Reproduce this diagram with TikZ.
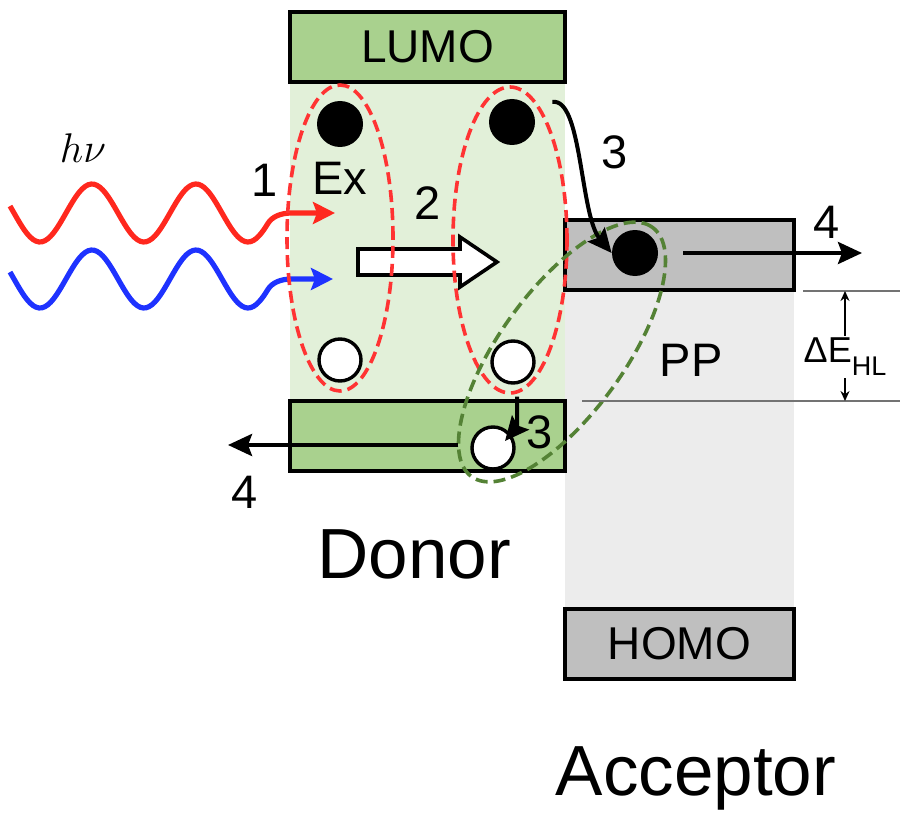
\documentclass[tikz,border=0pt]{standalone}
\usepackage{fontspec}
\setmainfont{Liberation Sans}
\usepackage{xcolor}
\usepackage{tikz}
\usetikzlibrary{positioning, arrows.meta, shapes.geometric, calc}
\definecolor{donorgreen}{RGB}{169,209,142}
\definecolor{donorbg}{RGB}{226,240,217}
\definecolor{accgray}{RGB}{191,191,191}
\definecolor{accbg}{RGB}{236,236,236}
\definecolor{exred}{RGB}{255,51,51}
\definecolor{ppgreen}{RGB}{84,130,53}
\definecolor{wavered}{RGB}{255,40,30}
\definecolor{waveblue}{RGB}{30,50,255}

\begin{document}
\begin{tikzpicture}[x=0.5pt, y=-0.5pt,
    level/.style={draw, line width=1.9pt, minimum height=35pt, inner sep=0pt,
                  font=\fontsize{23}{23}\selectfont},
    dlevel/.style={level, fill=donorgreen, minimum width=137.5pt},
    alevel/.style={level, fill=accgray, minimum width=114.5pt},
    electron/.style={circle, fill=black, minimum size=23pt, inner sep=0pt},
    hole/.style={circle, draw, line width=1.7pt, fill=white, minimum size=21pt, inner sep=0pt},
    lbl/.style={font=\fontsize{23.5}{24}\selectfont, inner sep=0pt},
    biglbl/.style={font=\fontsize{35.5}{36}\selectfont, inner sep=0pt, anchor=base},
    exciton/.style={ellipse, draw=exred, dash pattern=on 6pt off 3pt, line width=1.8pt, inner sep=0pt},
    pair/.style={ellipse, draw=ppgreen, dash pattern=on 6pt off 3pt, line width=1.8pt, inner sep=0pt},
    arr/.style={line width=2pt, -{Stealth[length=12pt, width=11pt, inset=2pt]}},
    wave/.style={line width=2.6pt, -{Stealth[length=11pt, width=11pt, inset=2pt]}},
    guide/.style={draw=black!55, line width=0.8pt}]

  \useasboundingbox (0,0) rectangle (900,813);

  \fill[donorbg] (290,82) rectangle (565,401);
  \fill[accbg] (565,290) rectangle (794,608);

  \node[dlevel] (dlumo) at (427.5,47) {LUMO};
  \node[dlevel] (dhomo) at (427.5,436) {};
  \node[alevel] (alumo) at (679.5,255) {};
  \node[alevel] (ahomo) at (679.5,644) {HOMO};

  \draw[line width=1.8pt, fill=white] (358,249) -- (460,249) -- (460,237) -- (497,262)
    -- (460,287) -- (460,275) -- (358,275) -- cycle;

  \coordinate (redtip) at (335,213);
  \coordinate (bluetip) at (333,279);
  \draw[wave, wavered] plot[domain=10:268, samples=90, smooth] (\x, {213+29*sin(3.4615*(\x-14))})
    .. controls (272,217) and (280,213) .. (292,213) -- (redtip);
  \draw[wave, waveblue] plot[domain=10:268, samples=90, smooth] (\x, {279+29*sin(3.4615*(\x-14))})
    .. controls (272,283) and (280,279) .. (292,279) -- (bluetip);

  \node[exciton, minimum width=53pt, minimum height=153pt] (ex1) at (340,238) {};
  \node[exciton, minimum width=57pt, minimum height=153pt] (ex2) at (510,240) {};
  \node[pair, minimum width=154pt, minimum height=62pt, rotate=54] (pp) at (562,352) {};

  \node[electron] (e1) at (340,124) {};
  \node[electron] (e2) at (512,122) {};
  \node[electron] (e3) at (635,253) {};
  \node[hole] (h1) at (340,360) {};
  \node[hole] (h2) at (513,362) {};
  \node[hole] (h3) at (493,448) {};

  \coordinate (out4r) at (862,253);
  \coordinate (out4l) at (228,445);
  \draw[arr] ($(e2.east)+(17,-20)$) .. controls (582,97) and (580,215) .. (e3.west);
  \draw[arr] ($(e3.east)+(25,0)$) -- (out4r);
  \draw[arr] ($(h3.west)+(-12,-3)$) -- (out4l);
  \draw[arr] ($(h2.south)+(4,12)$) .. controls +(0,30) .. ($(h3.center)+(12,-7)$);

  \node[lbl, font=\fontsize{20}{20}\selectfont] (hnu) at (83,148) {$h\nu$};
  \node[lbl] (n1) at (265,180) {1};
  \node[lbl] (exlbl) at (340,178) {Ex};
  \node[lbl] (n2) at (428,203) {2};
  \node[lbl] (n3a) at (615,152) {3};
  \node[lbl] (n4a) at (827,222) {4};
  \node[lbl] (pplbl) at (691,360) {PP};
  \node[lbl] (n3b) at (540,432) {3};
  \node[lbl] (n4b) at (245,492) {4};
  \node[biglbl] (donor) at (414,578) {Donor};
  \node[biglbl] (acceptor) at (696,795) {Acceptor};

  \coordinate (gtop) at (803,291);
  \coordinate (gbot) at (582,401);
  \coordinate (detop) at (845,291);
  \coordinate (debot) at (845,401);
  \draw[guide] (gtop) -- (900,291);
  \draw[guide] (gbot) -- (900,401);
  \draw[line width=0.7pt, {Stealth[length=5pt, width=4.5pt]}-{Stealth[length=5pt, width=4.5pt]}] (detop) -- (debot);
  \node[fill=white, inner sep=1pt] (dehl) at (845,357)
    {{\fontsize{18}{18}\selectfont ΔE}\raisebox{-6.5pt}{\fontsize{13.5}{13.5}\selectfont HL}};
\end{tikzpicture}
\end{document}
